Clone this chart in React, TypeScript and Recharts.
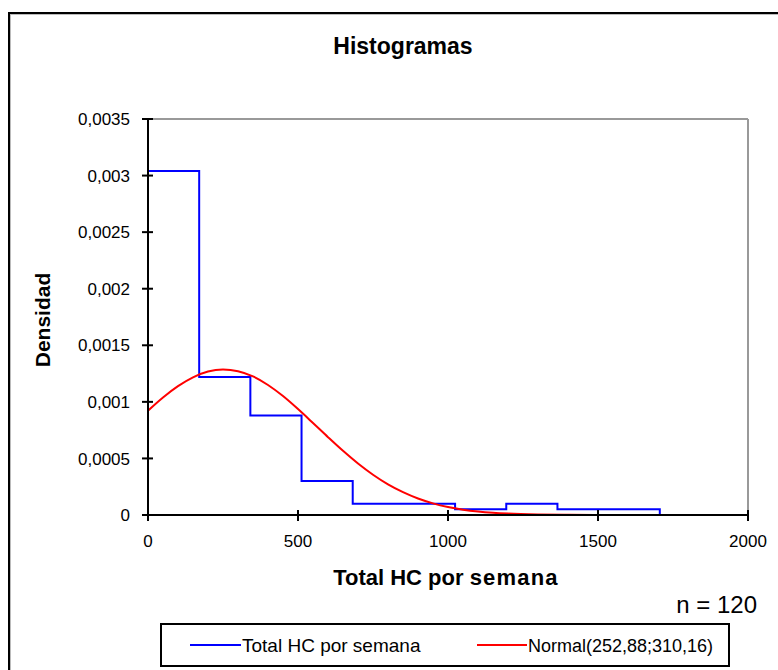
import React from 'react';
import { ComposedChart, Line, XAxis, YAxis, ReferenceLine } from 'recharts';

// Histogram bins (edges) and densities
const binEdges = [0, 170.6, 341.2, 511.8, 682.4, 853, 1023.6, 1194.2, 1364.8, 1535.4, 1706];
const binDensity = [0.00304, 0.00122, 0.00088, 0.0003, 0.0001, 0.0001, 0.00005, 0.0001, 0.00005, 0.00005];

// Normal(252,88;310,16) curve
const normalX = [0, 50, 100, 150, 200, 250, 300, 350, 400, 450, 500, 550, 600, 650, 700, 750, 800, 850, 900, 950, 1000, 1050, 1100, 1150, 1200, 1300, 1400, 1500, 1600, 2000];
const normalY = [0.000922, 0.001039, 0.001139, 0.001217, 0.001268, 0.001286, 0.001271, 0.001225, 0.001149, 0.001051, 0.000936, 0.000813, 0.000688, 0.000567, 0.000455, 0.000356, 0.000271, 0.000202, 0.000146, 0.000103, 0.0000707, 0.0000474, 0.0000309, 0.0000196, 0.0000122, 0.0000043, 0.0000014, 0.0000004, 0.0000001, 0];

const xTicks = [0, 500, 1000, 1500, 2000];
const xTickLabels = ['0', '500', '1000', '1500', '2000'];
const yTicks = [0, 0.0005, 0.001, 0.0015, 0.002, 0.0025, 0.003, 0.0035];
const yTickLabels = ['0', '0,0005', '0,001', '0,0015', '0,002', '0,0025', '0,003', '0,0035'];

const histSeriesName = 'Total HC por semana';
const normalSeriesName = 'Normal(252,88;310,16)';
const titleText = 'Histogramas';
const xTitleA = 'Total HC por ';
const xTitleB = 'semana';
const yTitle = 'Densidad';
const nText = 'n = 120';

const histData: { x: number; h: number }[] = [{ x: binEdges[0], h: 0 }];
binDensity.forEach((d, i) => histData.push({ x: binEdges[i], h: d }));
histData.push({ x: binEdges[binEdges.length - 1], h: 0 });

const normalData = normalX.map((x, i) => ({ x, n: normalY[i] }));

const FONT = '"Liberation Sans", Arial, sans-serif';
const Y_MARGIN = 18;
const X_MARGIN = 20;

const YTick = (p: any) => {
  const ax = p.x + Y_MARGIN;
  const idx = yTicks.indexOf(p.payload.value);
  return (
    <g>
      <line x1={ax - 6} x2={ax + 5} y1={p.y} y2={p.y} stroke="#000" strokeWidth={2} />
      <text x={p.x} y={p.y} dy="0.36em" textAnchor="end" fontSize={17} fontFamily={FONT} fill="#000">
        {idx >= 0 ? yTickLabels[idx] : ''}
      </text>
    </g>
  );
};

const XTick = (p: any) => {
  const ay = p.y - X_MARGIN;
  const idx = xTicks.indexOf(p.payload.value);
  return (
    <g>
      <line x1={p.x} x2={p.x} y1={ay - 5} y2={ay + 6} stroke="#000" strokeWidth={2} />
      <text x={p.x} y={p.y} dy="0.72em" textAnchor="middle" fontSize={17} fontFamily={FONT} fill="#000">
        {idx >= 0 ? xTickLabels[idx] : ''}
      </text>
    </g>
  );
};

export default function App() {
  return (
    <div style={{ position: 'fixed', left: 0, top: 0, width: 778, height: 670, overflow: 'hidden', background: '#fff', fontFamily: FONT }}>
      <div style={{ position: 'absolute', left: 8, top: 12, width: 900, height: 900, borderLeft: '2px solid #000', borderTop: '2px solid #000', boxShadow: 'inset 1px 1px 0 #bbb' }} />
      <div style={{ position: 'absolute', left: 0, top: 0 }}>
        <ComposedChart width={778} height={670} margin={{ top: 119, right: 30, bottom: 125, left: 68 }}>
          <XAxis
            type="number"
            dataKey="x"
            domain={[0, 2000]}
            ticks={xTicks}
            allowDataOverflow
            height={30}
            tickSize={0}
            tickMargin={X_MARGIN}
            tickLine={false}
            axisLine={{ stroke: '#000', strokeWidth: 2 }}
            tick={<XTick />}
            interval={0}
          />
          <YAxis
            type="number"
            domain={[0, 0.0035]}
            ticks={yTicks}
            allowDataOverflow
            width={80}
            tickSize={0}
            tickMargin={Y_MARGIN}
            tickLine={false}
            axisLine={{ stroke: '#000', strokeWidth: 2 }}
            tick={<YTick />}
            interval={0}
          />
          <ReferenceLine y={0.0035} stroke="#999" strokeWidth={2} />
          <ReferenceLine x={2000} stroke="#999" strokeWidth={2} />
          <Line
            data={histData}
            dataKey="h"
            type="stepAfter"
            stroke="#0000FF"
            strokeWidth={2}
            dot={false}
            activeDot={false}
            isAnimationActive={false}
            name={histSeriesName}
          />
          <Line
            data={normalData}
            dataKey="n"
            type="monotone"
            stroke="#FF0000"
            strokeWidth={2}
            dot={false}
            activeDot={false}
            isAnimationActive={false}
            name={normalSeriesName}
          />
        </ComposedChart>
      </div>
      <svg width={778} height={670} style={{ position: 'absolute', left: 0, top: 0, pointerEvents: 'none' }}>
        <text x={403} y={54} textAnchor="middle" fontSize={23} fontWeight="bold" fontFamily={FONT} fill="#000">{titleText}</text>
        <text transform="translate(50,320) rotate(-90)" textAnchor="middle" fontSize={21} fontWeight="bold" fontFamily={FONT} fill="#000">{yTitle}</text>
        <text x={446} y={585} textAnchor="middle" fontSize={22} fontWeight="bold" fontFamily={FONT} fill="#000">
          {xTitleA}
          <tspan letterSpacing={1.2}>{xTitleB}</tspan>
        </text>
        <text x={757} y={613} textAnchor="end" fontSize={24} fontFamily={FONT} fill="#000">{nText}</text>
        <rect x={161} y={624} width={568} height={42} fill="#fff" stroke="#000" strokeWidth={2} />
        <line x1={190} x2={241} y1={645} y2={645} stroke="#0000FF" strokeWidth={2} />
        <text x={242} y={652} fontSize={19} fontFamily={FONT} fill="#000">{histSeriesName}</text>
        <line x1={477} x2={527} y1={645} y2={645} stroke="#FF0000" strokeWidth={2} />
        <text x={528} y={652} fontSize={18} fontFamily={FONT} fill="#000">{normalSeriesName}</text>
      </svg>
    </div>
  );
}
